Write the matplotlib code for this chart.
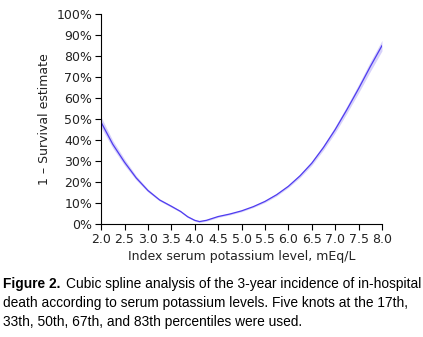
from matplotlib import pyplot as plt
from matplotlib.ticker import PercentFormatter

# serum potassium (mEq/L) and 1 - survival estimate (%)
k_level = [2.0, 2.25, 2.5, 2.75, 3.0, 3.25, 3.5, 3.7, 3.85, 4.0, 4.1, 4.25,
           4.5, 4.75, 5.0, 5.25, 5.5, 5.75, 6.0, 6.25, 6.5, 6.75, 7.0, 7.25,
           7.5, 7.75, 8.0]
risk = [48.5, 38.0, 29.5, 22.0, 16.0, 11.5, 8.5, 6.0, 3.5, 1.8, 1.2, 1.8,
        3.6, 4.8, 6.3, 8.3, 10.8, 14.0, 18.0, 23.0, 29.0, 36.5, 45.0, 54.5,
        64.5, 75.0, 85.0]
# confidence band
risk_lo = [46.0, 36.2, 28.0, 21.0, 15.3, 11.0, 8.0, 5.6, 3.1, 1.4, 0.8, 1.4,
           3.2, 4.4, 5.9, 7.9, 10.3, 13.4, 17.4, 22.2, 28.0, 35.3, 43.5, 52.8,
           62.5, 72.7, 82.5]
risk_hi = [51.0, 39.8, 31.0, 23.0, 16.7, 12.0, 9.0, 6.4, 3.9, 2.2, 1.6, 2.2,
           4.0, 5.2, 6.7, 8.7, 11.3, 14.6, 18.6, 23.8, 30.0, 37.7, 46.5, 56.2,
           66.5, 77.3, 87.5]
x_ticks = [2.0, 2.5, 3.0, 3.5, 4.0, 4.5, 5.0, 5.5, 6.0, 6.5, 7.0, 7.5, 8.0]

fig = plt.figure(figsize=(4.23, 3.37), dpi=100)
ax = fig.add_axes([0.239, 0.335, 0.664, 0.623])

ax.fill_between(k_level, risk_lo, risk_hi, color='#d6d1fa', lw=0)
ax.plot(k_level, risk, color='#4f3cf0', lw=0.9)

ax.set_xlim(2.0, 8.0)
ax.set_ylim(0, 100)
ax.set_xticks(x_ticks)
ax.set_xticklabels(['%.1f' % t for t in x_ticks])
ax.set_yticks(range(0, 101, 10))
ax.yaxis.set_major_formatter(PercentFormatter(decimals=0))
for s in ['top', 'right']:
    ax.spines[s].set_visible(False)
ax.tick_params(labelsize=9, labelcolor='#222222', length=4.5, width=0.8, pad=2)
ax.set_xlabel('Index serum potassium level, mEq/L', fontsize=9, color='#222222', labelpad=3)
ax.set_ylabel('1 \u2013 Survival estimate', fontsize=9, color='#222222', labelpad=4)

cap = ['Liberation Sans', 'DejaVu Sans']
fs = 9.9
t = fig.text(0.008, 0.157, 'Figure 2.', family=cap, weight='bold', fontsize=fs, va='center')
fig.canvas.draw()
bb = t.get_window_extent().transformed(fig.transFigure.inverted())
fig.text(bb.x1 + 0.012, 0.157, 'Cubic spline analysis of the 3-year incidence of in-hospital',
         family=cap, fontsize=fs, va='center')
fig.text(0.008, 0.101, 'death according to serum potassium levels. Five knots at the 17th,',
         family=cap, fontsize=fs, va='center')
fig.text(0.008, 0.045, '33th, 50th, 67th, and 83th percentiles were used.',
         family=cap, fontsize=fs, va='center')

fig.savefig('out.png', dpi=100)
